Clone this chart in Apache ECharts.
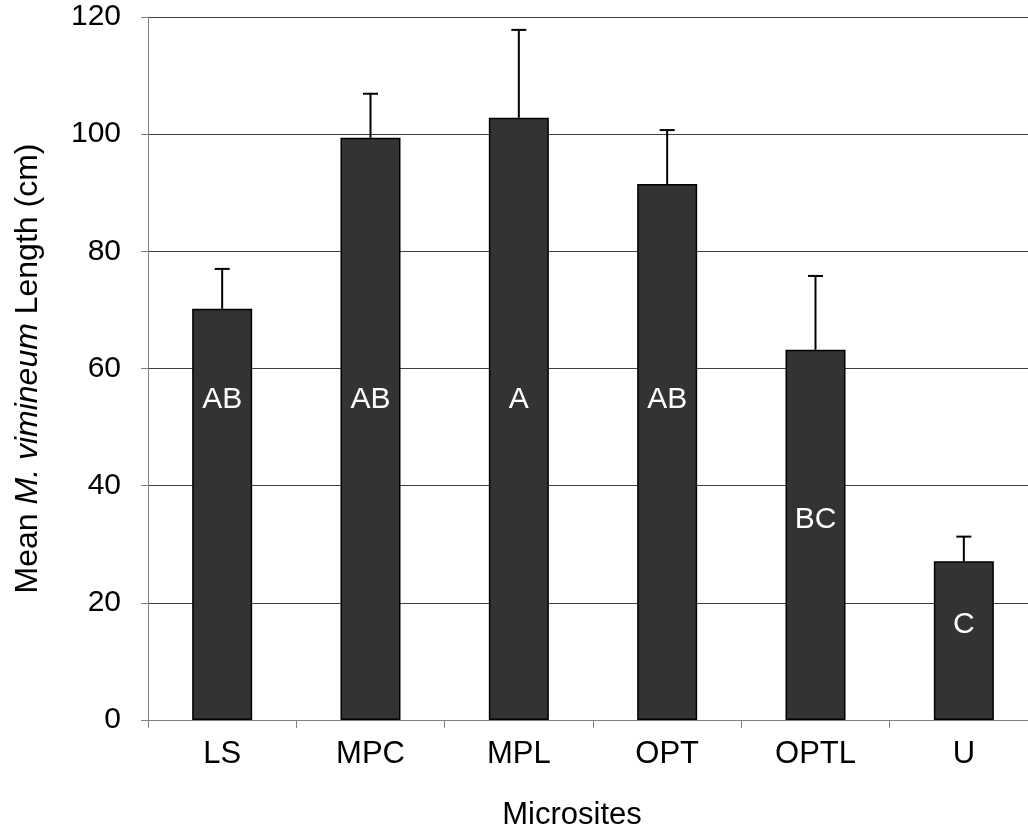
<!DOCTYPE html>
<html>
<head>
<meta charset="utf-8">
<script src="https://cdn.jsdelivr.net/npm/echarts@6/dist/echarts.min.js"></script>
<style>html,body{margin:0;padding:0;background:#fff;overflow:hidden;width:1028px;height:833px;}#c{width:1040px;height:833px;}</style>
</head>
<body>
<div id="c"></div>
<script>
const categories = ['LS', 'MPC', 'MPL', 'OPT', 'OPTL', 'U'];
const means = [70.2, 99.4, 102.8, 91.5, 63.2, 27.1];
const errTops = [77.0, 106.9, 117.8, 100.7, 75.8, 31.3];
const letters = ['AB', 'AB', 'A', 'AB', 'BC', 'C'];
const letterY = [54.6, 54.6, 54.6, 54.6, 34.2, 16.2];
const yTicks = [0, 20, 40, 60, 80, 100, 120];

const FONT = '"Liberation Sans", Arial, sans-serif';
const chart = echarts.init(document.getElementById('c'), null, {renderer: 'canvas'});
chart.setOption({
  animation: false,
  backgroundColor: '#fff',
  grid: {left: 148, top: 17, width: 890, height: 703, containLabel: false},
  graphic: [{
    type: 'text', x: 572, y: 815,
    style: {text: 'Microsites', fill: '#000', font: '31px ' + FONT, textAlign: 'center', textVerticalAlign: 'middle'}
  }],
  xAxis: {
    type: 'category',
    data: categories,
    boundaryGap: true,
    axisLine: {lineStyle: {color: '#808080', width: 1}},
    axisTick: {show: true, length: 8, lineStyle: {color: '#808080'}},
    axisLabel: {fontFamily: FONT, fontSize: 31, color: '#000', margin: 19},
    splitLine: {show: false}
  },
  yAxis: {
    type: 'value',
    min: yTicks[0], max: yTicks[yTicks.length - 1], interval: 20,
    axisLine: {show: true, lineStyle: {color: '#808080', width: 1}},
    axisTick: {show: true, length: 7, lineStyle: {color: '#808080'}},
    axisLabel: {fontFamily: FONT, fontSize: 30, color: '#000', margin: 27},
    splitLine: {show: true, lineStyle: {color: '#404040', width: 1}},
    name: '{n|Mean }{i|M. vimineum}{n| Length (cm)}',
    nameLocation: 'middle',
    nameRotate: 90,
    nameGap: 104,
    nameTextStyle: {
      rich: {
        n: {fontFamily: FONT, fontSize: 32, color: '#000'},
        i: {fontFamily: FONT, fontSize: 32, color: '#000', fontStyle: 'italic'}
      }
    }
  },
  series: [
    {
      type: 'bar',
      data: means,
      barWidth: 60,
      itemStyle: {color: '#333333', borderColor: '#000', borderWidth: 1.5},
      z: 2
    },
    {
      type: 'custom',
      z: 3,
      data: means.map((m, i) => [i, m, errTops[i]]),
      renderItem: function (params, api) {
        const i = api.value(0);
        const low = api.coord([i, api.value(1)]);
        const high = api.coord([i, api.value(2)]);
        const half = 7.5;
        return {
          type: 'group',
          children: [
            {type: 'line', shape: {x1: low[0], y1: low[1], x2: high[0], y2: high[1]},
             style: {stroke: '#000', lineWidth: 2}},
            {type: 'line', shape: {x1: high[0] - half, y1: high[1], x2: high[0] + half, y2: high[1]},
             style: {stroke: '#000', lineWidth: 2}}
          ]
        };
      }
    },
    {
      type: 'custom',
      z: 4,
      data: letters.map((l, i) => [i, letterY[i]]),
      renderItem: function (params, api) {
        const p = api.coord([api.value(0), api.value(1)]);
        return {
          type: 'text',
          x: p[0], y: p[1],
          style: {
            text: letters[params.dataIndex],
            fill: '#fff',
            font: '30px ' + FONT,
            textAlign: 'center',
            textVerticalAlign: 'middle'
          }
        };
      }
    }
  ]
});
</script>
</body>
</html>
